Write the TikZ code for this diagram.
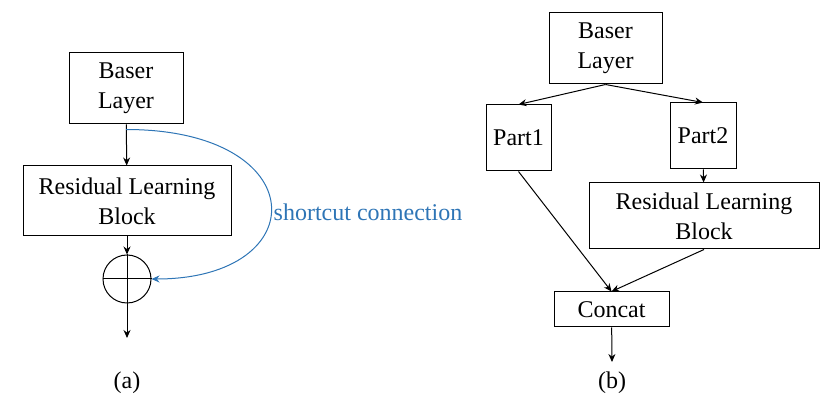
\documentclass[tikz,border=0pt]{standalone}
\usepackage{fontspec}
\setmainfont{Liberation Serif}
\usetikzlibrary{arrows.meta}
\definecolor{shortblue}{RGB}{46,117,182}

\begin{document}
\begin{tikzpicture}[
x=0.5pt,
y=-0.5pt,
->,
>={Stealth[length=4pt,width=3.5pt]},
line width=0.5pt,
every node/.style={
font=\fontsize{12}{14.8}\selectfont
},
block/.style={
draw,
align=center,
inner sep=0pt
},
sum/.style={
circle,
draw,
minimum size=24pt,
inner sep=0pt
}
]
\useasboundingbox (0,0) rectangle (830,405);

% (a) residual block
\node[block,minimum width=57pt,minimum height=35.5pt] (baseA) at (126,88.5) {Baser\\Layer};
\node[block,minimum width=104pt,minimum height=35pt] (resA) at (127,201) {Residual Learning\\Block};
\node[sum] (sumA) at (127,279) {};
\coordinate (outA) at (127,338);
\node (capA) at (127,383) {(a)};

\draw (baseA) -- (resA);
\draw (resA) -- (sumA);
\draw[-] (sumA.north) -- (sumA.south);
\draw[-] (sumA.west) -- (sumA.east);
\draw (sumA.south) -- (outA);
\draw[shortblue] ([yshift=-2.5pt]baseA.south) .. controls +(188,0) and +(164,0) .. (sumA.east);
\node[text=shortblue] (scLabel) at (368,212) {shortcut connection};

% (b) cross stage partial
\node[block,minimum width=56.5pt,minimum height=35.5pt] (baseB) at (605.5,48.5) {Baser\\Layer};
\node[block,minimum width=32.5pt,minimum height=33pt] (part1) at (518.5,138) {Part1};
\node[block,minimum width=33pt,minimum height=33pt] (part2) at (703,136) {Part2};
\node[block,minimum width=115pt,minimum height=33pt] (resB) at (704,216) {Residual Learning\\Block};
\node[block,minimum width=57.5pt,minimum height=17.5pt] (concat) at (611.5,309.5) {Concat};
\coordinate (outB) at (612,362);
\node (capB) at (612,383) {(b)};

\draw (baseB.south) -- (part1.north);
\draw (baseB.south) -- (part2.north);
\draw (part2) -- (resB);
\draw (part1.south) -- (concat.north);
\draw (resB.south) -- (concat.north);
\draw (concat) -- (outB);

\end{tikzpicture}
\end{document}
